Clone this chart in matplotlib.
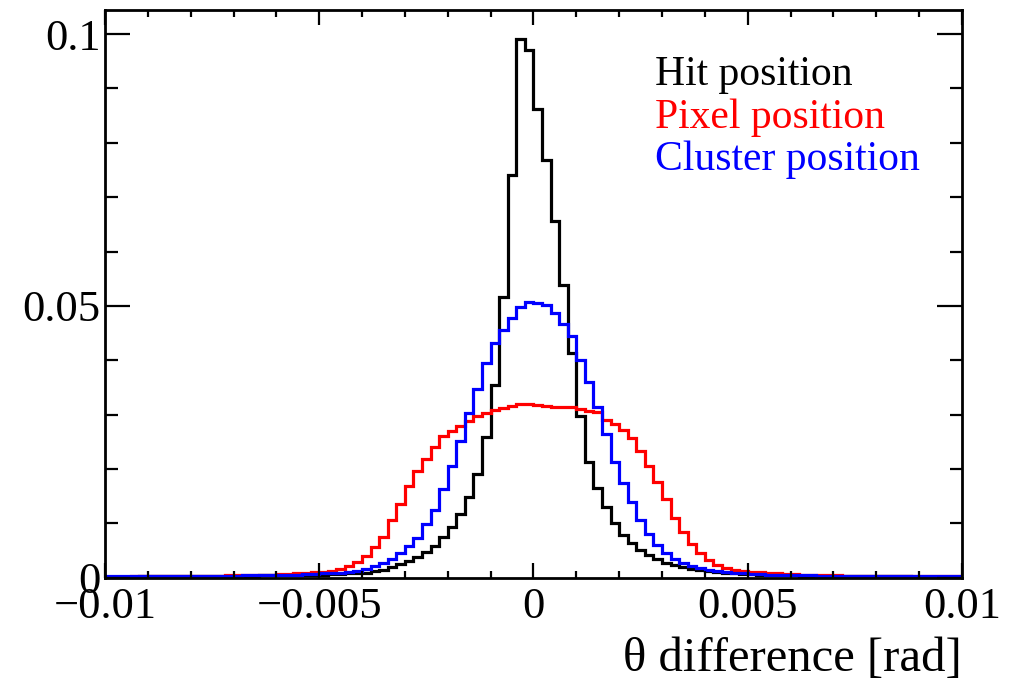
import numpy as np
import matplotlib
matplotlib.use("Agg")
import matplotlib.pyplot as plt
from matplotlib.ticker import MultipleLocator

plt.rcParams['font.family'] = ['Liberation Serif', 'DejaVu Serif']

# binning: 100 bins from -0.01 to 0.01
x_min, x_max, n_bins = -0.01, 0.01, 100

hit_pos = [
    0.0002, 0.0002, 0.0002, 0.0002, 0.0003, 0.0003, 0.0003, 0.0003, 0.0003, 0.0003,
    0.0003, 0.0003, 0.0004, 0.0004, 0.0004, 0.0004, 0.0004, 0.0004, 0.0005, 0.0005,
    0.0005, 0.0005, 0.0005, 0.0006, 0.0006, 0.0006, 0.0007, 0.0007, 0.0008, 0.0008,
    0.0009, 0.0012, 0.0015, 0.0019, 0.0025, 0.0031, 0.0039, 0.0048, 0.0059, 0.0075,
    0.0094, 0.0118, 0.0149, 0.0191, 0.0259, 0.0355, 0.0516, 0.0740, 0.0991, 0.0971,
    0.0862, 0.0768, 0.0657, 0.0539, 0.0413, 0.0297, 0.0213, 0.0165, 0.0130, 0.0100,
    0.0079, 0.0064, 0.0051, 0.0042, 0.0034, 0.0028, 0.0023, 0.0019, 0.0016, 0.0014,
    0.0012, 0.0011, 0.0009, 0.0008, 0.0007, 0.0007, 0.0006, 0.0006, 0.0005, 0.0005,
    0.0005, 0.0004, 0.0004, 0.0004, 0.0004, 0.0004, 0.0003, 0.0003, 0.0003, 0.0003,
    0.0003, 0.0003, 0.0003, 0.0003, 0.0002, 0.0002, 0.0002, 0.0002, 0.0002, 0.0002,
]

pixel_pos = [
    0.0002, 0.0002, 0.0002, 0.0003, 0.0003, 0.0003, 0.0003, 0.0003, 0.0003, 0.0003,
    0.0004, 0.0004, 0.0004, 0.0004, 0.0005, 0.0005, 0.0005, 0.0005, 0.0006, 0.0006,
    0.0007, 0.0007, 0.0008, 0.0009, 0.0010, 0.0011, 0.0013, 0.0016, 0.0021, 0.0029,
    0.0040, 0.0056, 0.0076, 0.0107, 0.0136, 0.0168, 0.0197, 0.0219, 0.0240, 0.0260,
    0.0270, 0.0279, 0.0289, 0.0297, 0.0303, 0.0309, 0.0313, 0.0316, 0.0320, 0.0319,
    0.0317, 0.0316, 0.0315, 0.0315, 0.0314, 0.0310, 0.0307, 0.0305, 0.0290, 0.0282,
    0.0272, 0.0257, 0.0233, 0.0205, 0.0177, 0.0145, 0.0110, 0.0084, 0.0063, 0.0045,
    0.0033, 0.0024, 0.0018, 0.0015, 0.0013, 0.0011, 0.0010, 0.0009, 0.0008, 0.0007,
    0.0007, 0.0006, 0.0006, 0.0005, 0.0005, 0.0005, 0.0004, 0.0004, 0.0004, 0.0004,
    0.0004, 0.0003, 0.0003, 0.0003, 0.0003, 0.0003, 0.0003, 0.0003, 0.0003, 0.0003,
]

cluster_pos = [
    0.0003, 0.0003, 0.0003, 0.0003, 0.0003, 0.0003, 0.0003, 0.0003, 0.0003, 0.0003,
    0.0003, 0.0004, 0.0004, 0.0004, 0.0004, 0.0004, 0.0005, 0.0005, 0.0005, 0.0005,
    0.0006, 0.0006, 0.0006, 0.0007, 0.0007, 0.0008, 0.0008, 0.0009, 0.0010, 0.0013,
    0.0016, 0.0021, 0.0027, 0.0034, 0.0045, 0.0059, 0.0074, 0.0099, 0.0125, 0.0164,
    0.0206, 0.0251, 0.0303, 0.0347, 0.0396, 0.0431, 0.0456, 0.0477, 0.0499, 0.0508,
    0.0506, 0.0502, 0.0487, 0.0467, 0.0445, 0.0401, 0.0361, 0.0314, 0.0264, 0.0213,
    0.0175, 0.0139, 0.0107, 0.0081, 0.0061, 0.0046, 0.0035, 0.0027, 0.0021, 0.0018,
    0.0015, 0.0012, 0.0010, 0.0009, 0.0008, 0.0007, 0.0007, 0.0006, 0.0006, 0.0005,
    0.0005, 0.0005, 0.0005, 0.0004, 0.0004, 0.0004, 0.0004, 0.0004, 0.0003, 0.0003,
    0.0003, 0.0003, 0.0003, 0.0003, 0.0003, 0.0003, 0.0003, 0.0003, 0.0003, 0.0003,
]

labels = ["Hit position", "Pixel position", "Cluster position"]
colors = ["black", "#ff0000", "#0000ff"]

edges = np.linspace(x_min, x_max, n_bins + 1)

fig = plt.figure(figsize=(10.19, 6.79), dpi=100)
ax = fig.add_axes([0.103, 0.149, 0.841, 0.836])

for vals, c in zip([hit_pos, pixel_pos, cluster_pos], colors):
    ax.stairs(vals, edges, color=c, lw=2.3, baseline=None)

ax.set_xlim(x_min, x_max)
ax.set_ylim(0, 0.1044)

ax.xaxis.set_minor_locator(MultipleLocator(0.001))
ax.yaxis.set_minor_locator(MultipleLocator(0.01))
ax.set_xticks([-0.01, -0.005, 0, 0.005, 0.01])
ax.set_xticklabels(["\u22120.01", "\u22120.005", "0", "0.005", "0.01"])
ax.set_yticks([0, 0.05, 0.1])
ax.set_yticklabels(["0", "0.05", "0.1"])

ax.tick_params(axis='both', which='both', direction='in', top=True, right=True,
               width=1.6, labelsize=32)
ax.tick_params(axis='x', which='major', length=11, pad=6.5)
ax.tick_params(axis='x', which='minor', length=5)
ax.tick_params(axis='y', which='major', length=18, pad=3)
ax.tick_params(axis='y', which='minor', length=9)
for s in ax.spines.values():
    s.set_linewidth(2)

ax.set_xlabel("\u03b8 difference [rad]", fontsize=35, loc='right', labelpad=7)

for i, (lab, c) in enumerate(zip(labels, colors)):
    fig.text(0.643, 0.89 - i * 0.063, lab, color=c, fontsize=30, va='center', ha='left')

fig.savefig("out.png", dpi=100)
